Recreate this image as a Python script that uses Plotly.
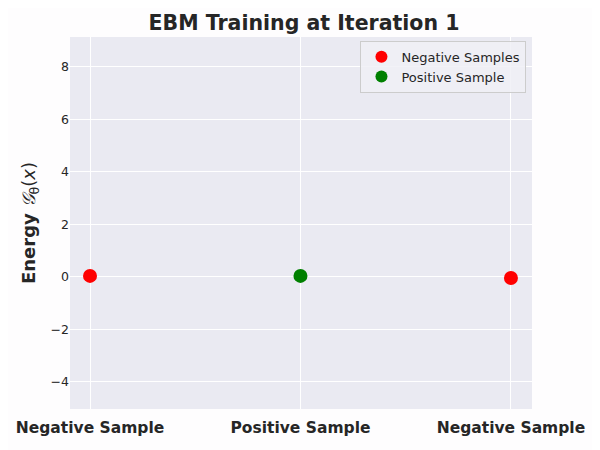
import plotly.graph_objects as go

categories = ["Negative Sample", "Positive Sample", "Negative Sample"]
neg_x = [0, 2]
neg_y = [0.04, -0.04]
pos_x = [1]
pos_y = [0.04]
y_ticks = [-4, -2, 0, 2, 4, 6, 8]

fig = go.Figure()
fig.add_trace(go.Scatter(x=neg_x, y=neg_y, mode="markers", name="Negative Samples",
                         marker=dict(color="red", size=14)))
fig.add_trace(go.Scatter(x=pos_x, y=pos_y, mode="markers", name="Positive Sample",
                         marker=dict(color="green", size=14)))

fig.update_layout(
    width=592, height=442,
    paper_bgcolor="#FEFDFE", plot_bgcolor="#EAEAF2",
    font=dict(family="DejaVu Sans", color="#262626", size=12.5),
    margin=dict(l=62, r=68, t=29, b=41, autoexpand=False),
    title=dict(text="<b>EBM Training at Iteration 1</b>", x=0.5, xanchor="center",
               y=1 - 15 / 442, yanchor="middle", font=dict(size=20.5, color="#262626")),
    showlegend=True,
    legend=dict(x=0.988, y=0.99, xanchor="right", yanchor="top",
                bgcolor="rgba(240,240,246,0.85)", bordercolor="#CCCCCC", borderwidth=1,
                font=dict(size=13), itemsizing="constant", itemwidth=30),
    xaxis=dict(range=[-0.095, 2.1], tickvals=list(range(len(categories))),
               ticktext=[f"<b>{c}</b>" for c in categories],
               tickfont=dict(size=15.5), showgrid=True, gridcolor="white", gridwidth=1,
               zeroline=False, showline=False, ticks="", ticklabelstandoff=7),
    yaxis=dict(range=[-5.03, 9.14], tickvals=y_ticks,
               ticktext=[str(t).replace("-", "−") for t in y_ticks],
               showgrid=True, gridcolor="white", gridwidth=1, zeroline=False, ticks="",
               title=dict(text="<b>Energy</b> <i>𝒢</i><sub>θ</sub>(<i>x</i>)",
                          font=dict(size=18), standoff=10)),
)

fig.write_html("out.html")
